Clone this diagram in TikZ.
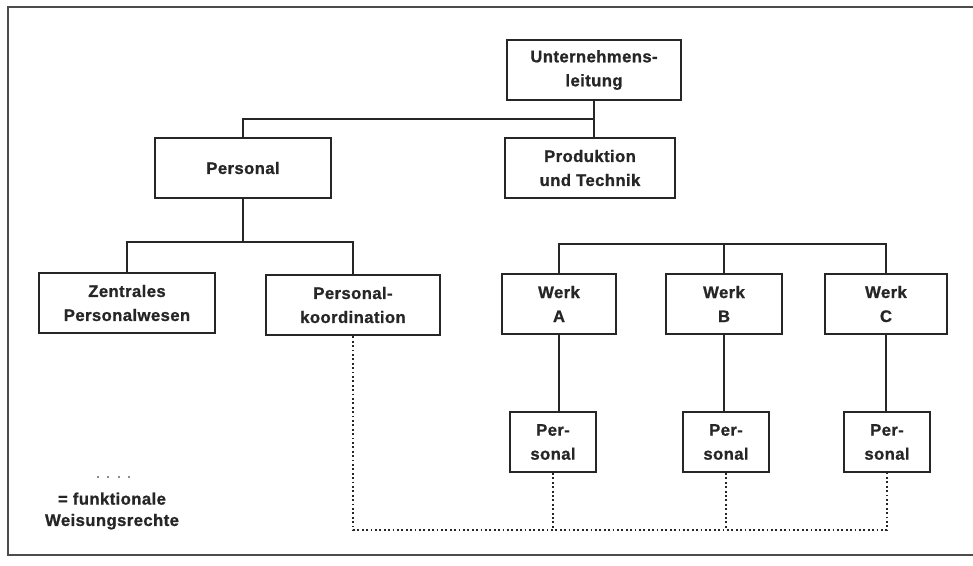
\documentclass[tikz,border=0pt]{standalone}
\usepackage{fontspec}
\setmainfont{Liberation Sans}[FakeBold=1.0,LetterSpace=2.5]

\begin{document}
\begin{tikzpicture}[x=0.75pt,y=-0.75pt,line width=1.2pt,
  box/.style={draw=black!85,line width=1.6pt,minimum height=45.5pt,inner sep=0pt,
    align=center,text=black!85,font=\fontsize{12.5}{18}\selectfont\bfseries},
  funk/.style={black!85,line width=1.5pt,dash pattern=on 1.4pt off 1.9pt},
  link/.style={black!85,line width=1.2pt}]
  \useasboundingbox (0,0) rectangle (973,565);
  % ===================== Rahmen =====================
  \draw[black!70,line width=2pt] (973,7)--(8,7)--(8,555)--(973,555);
  % ===================== Leitung =====================
  \node[box,minimum width=130pt] (ul) at (594,70) {Unternehmens-\\leitung};
  \node[box,minimum width=132pt] (pers) at (243,168) {Personal};
  \node[box,minimum width=128pt] (prod) at (590,168) {Produktion\\und Technik};
  % ===================== Personalbereich =====================
  \node[box,minimum width=132pt] (zentr) at (127,303) {Zentrales\\Personalwesen};
  \node[box,minimum width=130pt] (koord) at (353,305) {Personal-\\koordination};
  % ===================== Werke =====================
  \node[box,minimum width=85pt] (werkA) at (559,304) {Werk\\A};
  \node[box,minimum width=87pt] (werkB) at (724,304) {Werk\\B};
  \node[box,minimum width=92pt] (werkC) at (886,304) {Werk\\C};
  \node[box,minimum width=64.5pt,minimum height=45pt] (persA) at (553,442) {Per-\\sonal};
  \node[box,minimum width=64.5pt,minimum height=45pt] (persB) at (726,442) {Per-\\sonal};
  \node[box,minimum width=64.5pt,minimum height=45pt] (persC) at (887,442) {Per-\\sonal};
  % ---------- Linien ----------
  \coordinate (busT) at (0,119);
  \coordinate (busP) at (0,242);
  \coordinate (busW) at (0,244);
  \coordinate (busD) at (0,530);
  \draw[link] (ul.south)--(ul.south |- prod.north);
  \draw[link] (pers.north)|-(ul.south |- busT);
  \draw[link] (pers.south)--(pers.south |- busP);
  \draw[link] (zentr.north)--(zentr.north |- busP)-|(koord.north);
  \draw[link] (werkA.north)--(werkA.north |- busW)-|(werkC.north);
  \draw[link] (werkB.north)--(werkB.north |- busW);
  \draw[link] (werkA.south)--(werkA.south |- persA.north);
  \draw[link] (werkB.south)--(werkB.south |- persB.north);
  \draw[link] (werkC.south)--(werkC.south |- persC.north);
  % ---------- funktionale Weisungsrechte ----------
  \draw[funk] (koord.south)--(koord.south |- busD)-|(persC.south);
  \draw[funk] (persA.south)--(persA.south |- busD);
  \draw[funk] (persB.south)--(persB.south |- busD);
  % ---------- Legende ----------
  \draw[funk,black!45,dash pattern=on 1.3pt off 6.5pt] (97,477)--(130,477);
  \node[align=center,text=black!85,font=\fontsize{12.5}{16}\selectfont\bfseries] (leg) at (112,511)
    {= funktionale\\Weisungsrechte};
\end{tikzpicture}
\end{document}
